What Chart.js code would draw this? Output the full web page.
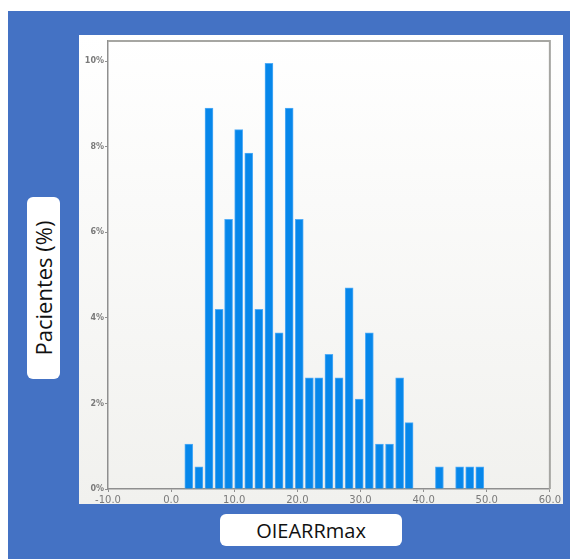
<!DOCTYPE html>
<html>
<head>
<meta charset="utf-8">
<script src="https://cdn.jsdelivr.net/npm/chart.js@4.4.0/dist/chart.umd.min.js"></script>
<style>
  html, body { margin: 0; padding: 0; background: #fff; }
  #fondo { position: absolute; left: 8px; top: 11px; width: 562px; height: 548px; background: #4472c4; }
  #panel { position: absolute; left: 79px; top: 35px; width: 484px; height: 469px;
           background: linear-gradient(#ffffff, #f1f1ee); }
  .etiqueta { position: absolute; background: #fff; border-radius: 6px; color: #111;
              font-family: "Open Sans", "Noto Sans", sans-serif; font-size: 20px;
              display: flex; align-items: center; justify-content: center; }
  #etiquetaX { left: 220px; top: 514px; width: 182px; height: 32px; }
  #etiquetaY { left: 27px; top: 197px; width: 33px; height: 182px; font-size: 22px; }
  #etiquetaY span { transform: rotate(-90deg); white-space: nowrap; display: inline-block; }
</style>
</head>
<body>
<div id="fondo"></div>
<div id="panel"><canvas id="grafica" width="484" height="469"></canvas></div>
<div class="etiqueta" id="etiquetaX">OIEARRmax</div>
<div class="etiqueta" id="etiquetaY"><span>Pacientes (%)</span></div>
<script>
// centros de cada intervalo del histograma (OIEARRmax)
const centros = [2.8, 4.4, 6.0, 7.6, 9.1, 10.7, 12.3, 13.9, 15.5, 17.1,
                 18.7, 20.3, 21.9, 23.4, 25.0, 26.6, 28.2, 29.8, 31.4, 33.0,
                 34.6, 36.2, 37.7, 39.3, 40.9, 42.5, 44.1, 45.7, 47.3, 48.9];
// porcentaje de pacientes en cada intervalo
const porcentajes = [1.05, 0.52, 8.9, 4.2, 6.3, 8.4, 7.85, 4.2, 9.95, 3.65,
                     8.9, 6.3, 2.6, 2.6, 3.15, 2.6, 4.7, 2.1, 3.65, 1.05,
                     1.05, 2.6, 1.55, 0, 0, 0.52, 0, 0.52, 0.52, 0.52];
const ticksX = [-10, 0, 10, 20, 30, 40, 50, 60];
const ticksY = [0, 2, 4, 6, 8, 10];

const marco = {
    id: 'marco',
    afterDraw(chart) {
        const { ctx, chartArea: a } = chart;
        ctx.save();
        ctx.strokeStyle = '#a6a6a2';
        ctx.lineWidth = 2;
        ctx.beginPath();
        ctx.moveTo(a.left, a.top);
        ctx.lineTo(a.right, a.top);
        ctx.lineTo(a.right, a.bottom);
        ctx.stroke();
        ctx.restore();
    }
};

new Chart(document.getElementById('grafica'), {
    type: 'bar',
    data: {
        datasets: [{
            data: centros.map((x, i) => ({ x: x, y: porcentajes[i] })),
            backgroundColor: '#0787ea',
            borderColor: '#52adf7',
            borderWidth: 1,
            barThickness: 8
        }]
    },
    options: {
        responsive: false,
        animation: false,
        layout: { padding: { top: 6, right: 12, left: 0, bottom: 0 } },
        scales: {
            x: {
                type: 'linear',
                min: -10,
                max: 60,
                offset: false,
                afterBuildTicks: s => { s.ticks = ticksX.map(v => ({ value: v })); },
                afterFit: s => { s.height = 15; },
                grid: { offset: false, drawOnChartArea: false, tickLength: 3, color: '#8f8f8f' },
                border: { color: '#8f8f8f', width: 1.5 },
                ticks: {
                    padding: 2,
                    maxRotation: 0,
                    color: '#7a7a7a',
                    font: { family: 'DejaVu Sans', size: 10 },
                    callback: v => v.toFixed(1)
                }
            },
            y: {
                min: 0,
                max: 10.47,
                afterBuildTicks: s => { s.ticks = ticksY.map(v => ({ value: v })); },
                afterFit: s => { s.width = 29; },
                grid: { drawOnChartArea: false, tickLength: 3, color: '#8f8f8f' },
                border: { color: '#8f8f8f', width: 1.5 },
                ticks: {
                    padding: 1,
                    color: '#7a7a7a',
                    font: { family: 'DejaVu Sans', size: 8, weight: 'bold' },
                    callback: v => v + '%'
                }
            }
        },
        plugins: {
            legend: { display: false },
            tooltip: { enabled: false }
        }
    },
    plugins: [marco]
});
</script>
</body>
</html>
